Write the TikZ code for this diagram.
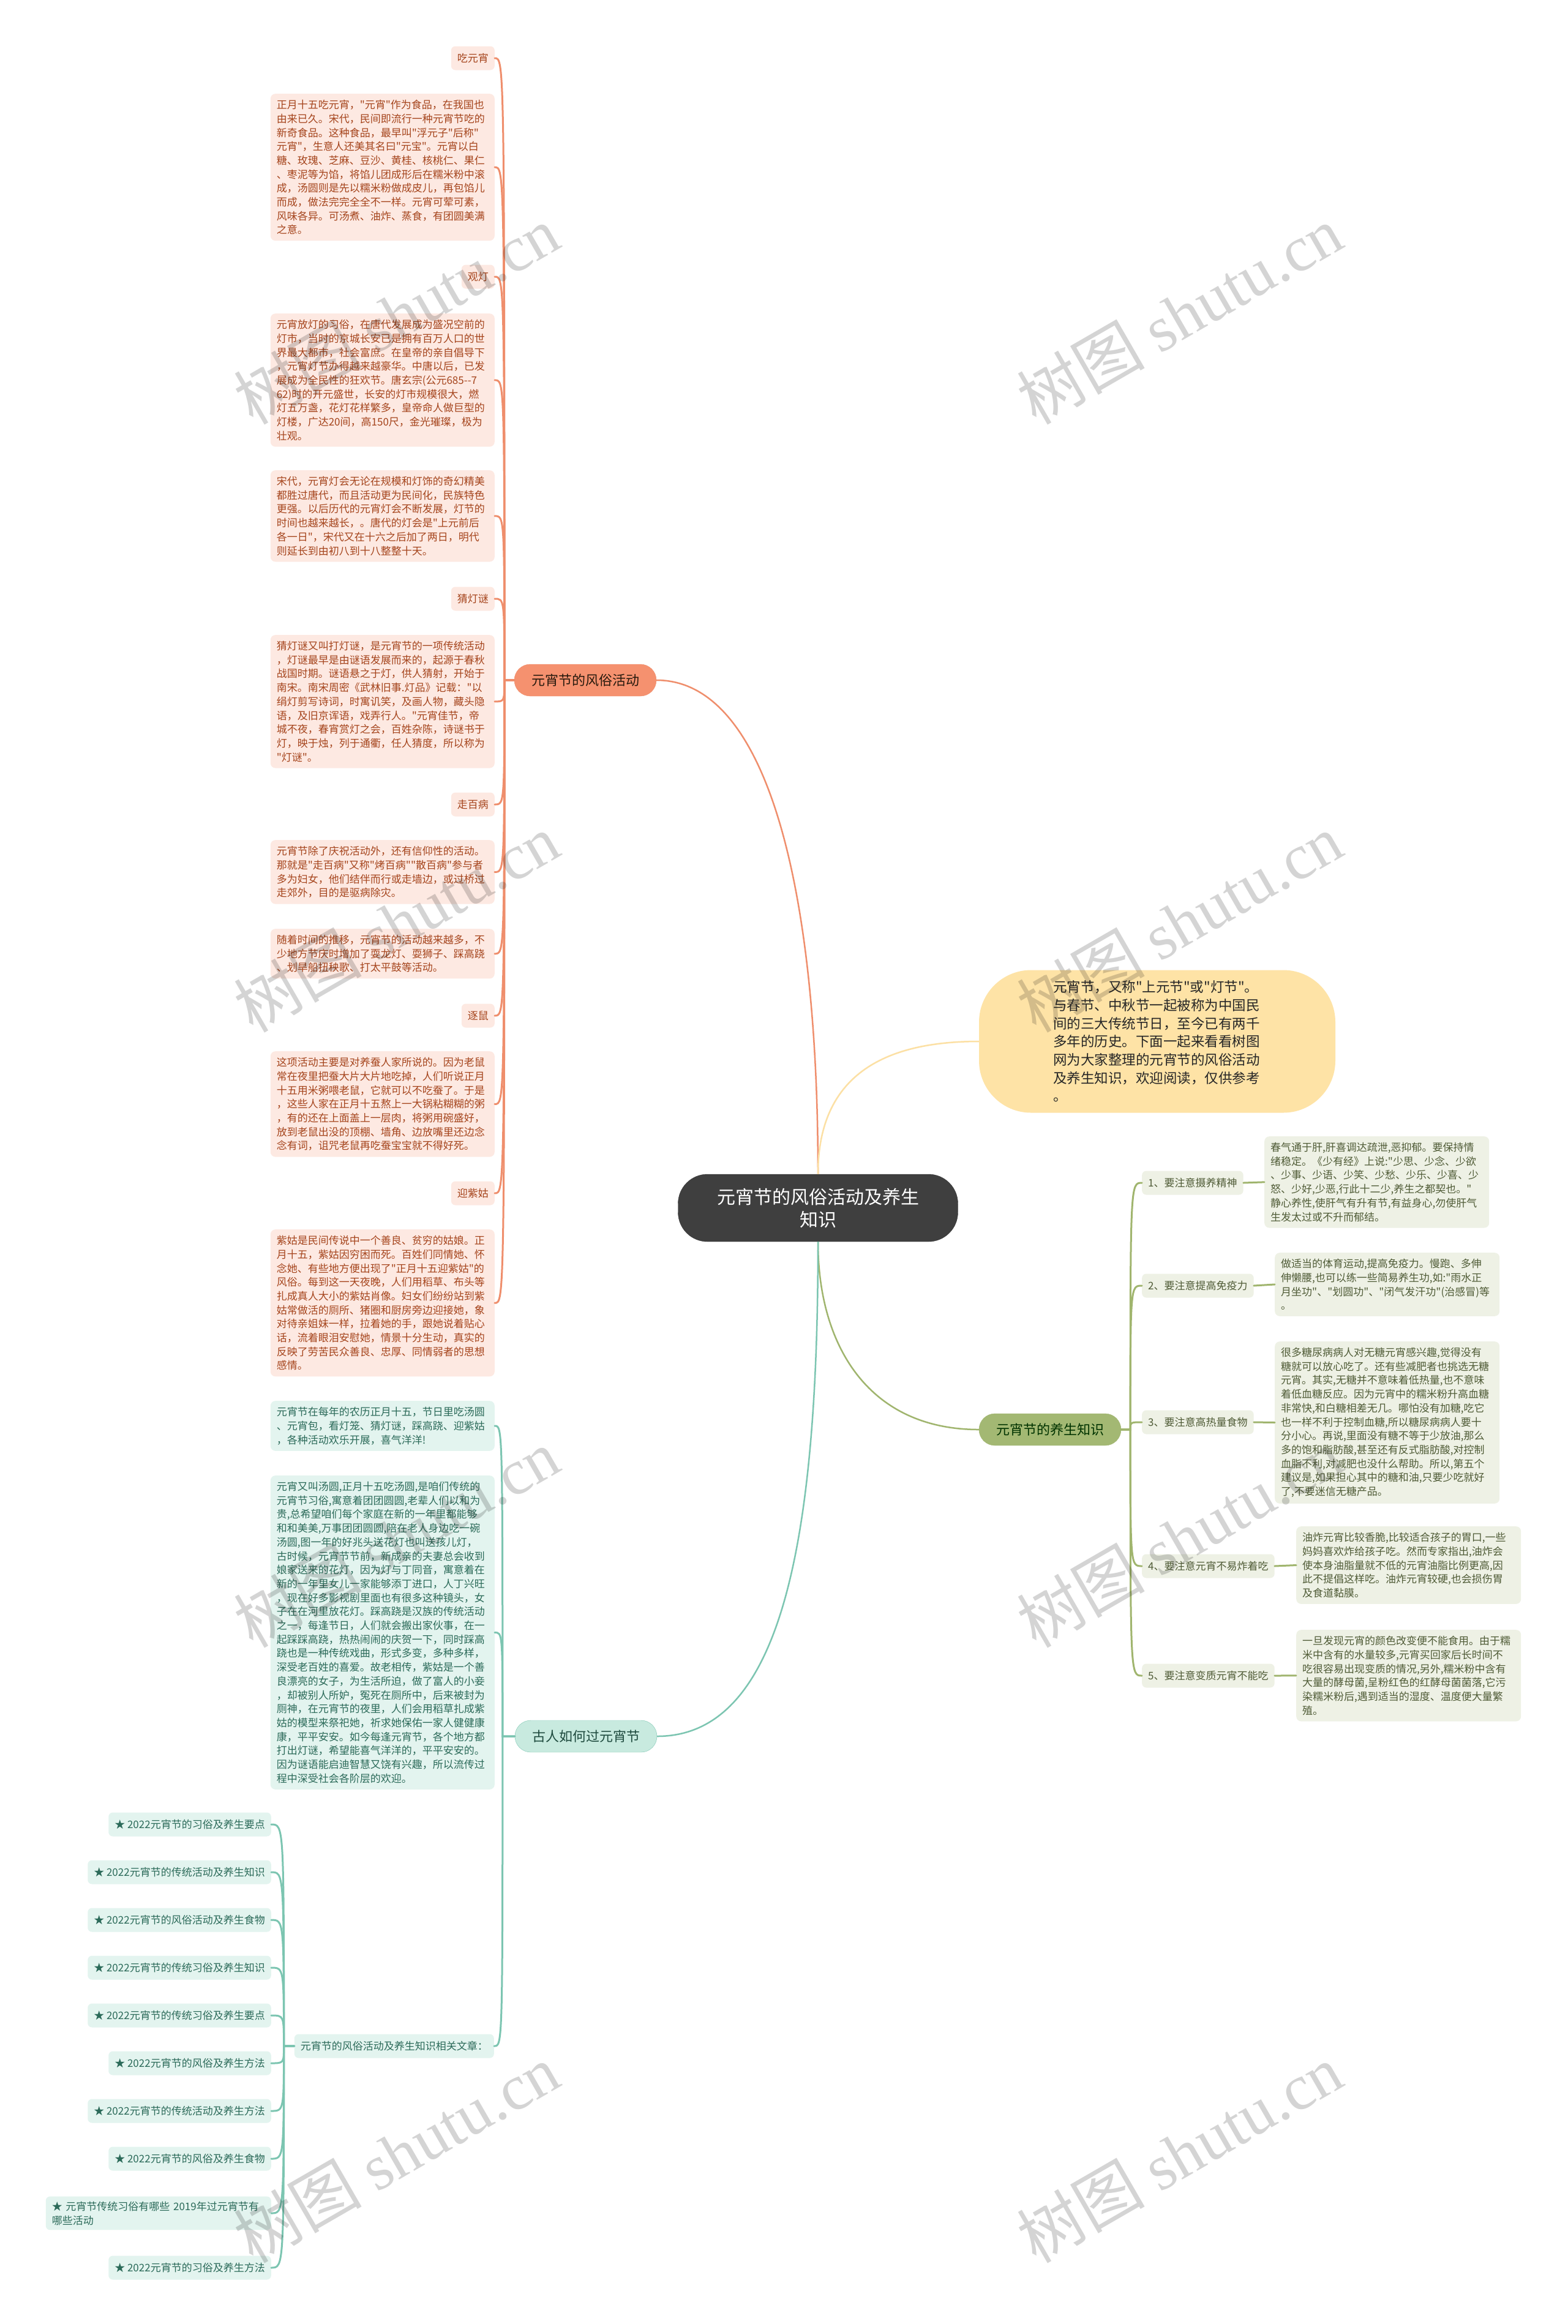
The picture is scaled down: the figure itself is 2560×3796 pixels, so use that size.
\documentclass[tikz,border=0pt]{standalone}
\usepackage{fontspec}
\setmainfont{Noto Sans CJK SC}
\newfontfamily\cjkfont{Noto Sans CJK SC}
\newfontfamily\wmlatin{Liberation Serif}
\usetikzlibrary{positioning}
\definecolor{rootfill}{HTML}{3F3F3F}
\definecolor{introfill}{HTML}{FEE3A6}
\definecolor{introline}{HTML}{FCE0A4}
\definecolor{fsline}{HTML}{EF8E6C}
\definecolor{fsfill}{HTML}{F5916F}
\definecolor{fsleaf}{HTML}{FDE9E2}
\definecolor{fstext}{HTML}{A5441C}
\definecolor{ysline}{HTML}{A0B56E}
\definecolor{ysfill}{HTML}{A3B873}
\definecolor{ysleaf}{HTML}{EEF1E5}
\definecolor{ystext}{HTML}{4F5B36}
\definecolor{grline}{HTML}{7CC5B1}
\definecolor{grfill}{HTML}{C8EADF}
\definecolor{grleaf}{HTML}{E3F4EF}
\definecolor{grtext}{HTML}{2B6A59}
\newcommand{\fsz}[2]{\cjkfont\fontsize{#1pt}{#2pt}\selectfont}

\begin{document}
\begin{tikzpicture}[
						x=1pt,
						y=-1pt,
						rootnode/.style={fill=rootfill, draw=rootfill!80!black, text=white, rounded corners=48pt, font=\fsz{30}{37}, align=center, minimum width=457pt, minimum height=110pt},
						intronode/.style={fill=introfill, text=black!85, rounded corners=85pt, font=\fsz{22.5}{29.7}, text width=340pt, align=left, inner xsep=121pt, minimum height=233pt},
						branch/.style={rounded corners=26pt, font=\fsz{22}{26}, inner xsep=28pt, minimum height=52pt},
						fsbranch/.style={branch, fill=fsfill, draw=fsline, text=black!80!brown},
						ysbranch/.style={branch, fill=ysfill, draw=ysline, text=black!80!green},
						grbranch/.style={branch, fill=grfill, draw=grline, text=grtext!70!black},
						leaflabel/.style={rounded corners=7pt, font=\fsz{17}{23}, inner xsep=10pt, inner ysep=8pt, minimum height=39pt},
						leafblock/.style={rounded corners=8pt, font=\fsz{17}{22.7}, text width=346pt, align=left, inner sep=10pt},
						fslabel/.style={leaflabel, fill=fsleaf, text=fstext, anchor=east},
						fsblock/.style={leafblock, fill=fsleaf, text=fstext, anchor=north east},
						yslabel/.style={leaflabel, fill=ysleaf, text=ystext, anchor=west},
						ysblock/.style={leafblock, fill=ysleaf, text=ystext, text width=347pt, anchor=north west},
						grlabel/.style={leaflabel, fill=grleaf, text=grtext, anchor=east},
						grblock/.style={leafblock, fill=grleaf, text=grtext, anchor=north east},
						edge/.style={line width=3pt, line cap=round},
						fsedge/.style={edge, draw=fsline},
						ysedge/.style={edge, draw=ysline},
						gredge/.style={edge, draw=grline},
						mainedge/.style={line width=2.5pt},
						watermark/.style={rotate=30, font=\fsz{105}{105}, text=black, text opacity=0.17, inner sep=0pt}
					]
	\fill[white] (0,0) rectangle (2560,3796);
	\useasboundingbox (0,0) rectangle (2560,3796);

	\node[rootnode] (root) at (1336,1973) {元宵节的风俗活动及养生\\知识};
	\node[intronode] (intro) at (1890,1701) {元宵节，又称"上元节"或"灯节"。\\与春节、中秋节一起被称为中国民\\间的三大传统节日，至今已有两千\\多年的历史。下面一起来看看树图\\网为大家整理的元宵节的风俗活动\\及养生知识，欢迎阅读，仅供参考\\。};
	\node[fsbranch] (fengsu) at (956,1111) {元宵节的风俗活动};
	\node[ysbranch] (yangsheng) at (1715,2335) {元宵节的养生知识};
	\node[grbranch] (guren) at (957,2836) {古人如何过元宵节};

	\node[fslabel] (fsl1) at (808,95) {吃元宵};
	\node[fsblock] (fsb1) at (808,153) {正月十五吃元宵，"元宵"作为食品，在我国也\\由来已久。宋代，民间即流行一种元宵节吃的\\新奇食品。这种食品，最早叫"浮元子"后称"\\元宵"，生意人还美其名曰"元宝"。元宵以白\\糖、玫瑰、芝麻、豆沙、黄桂、核桃仁、果仁\\、枣泥等为馅，将馅儿团成形后在糯米粉中滚\\成，汤圆则是先以糯米粉做成皮儿，再包馅儿\\而成，做法完完全全不一样。元宵可荤可素，\\风味各异。可汤煮、油炸、蒸食，有团圆美满\\之意。};
	\node[fslabel] (fsl2) at (808,452) {观灯};
	\node[fsblock] (fsb2) at (808,512) {元宵放灯的习俗，在唐代发展成为盛况空前的\\灯市，当时的京城长安已是拥有百万人口的世\\界最大都市，社会富庶。在皇帝的亲自倡导下\\，元宵灯节办得越来越豪华。中唐以后，已发\\展成为全民性的狂欢节。唐玄宗(公元685--7\\62)时的开元盛世，长安的灯市规模很大，燃\\灯五万盏，花灯花样繁多，皇帝命人做巨型的\\灯楼，广达20间，高150尺，金光璀璨，极为\\壮观。};
	\node[fsblock] (fsb3) at (808,768) {宋代，元宵灯会无论在规模和灯饰的奇幻精美\\都胜过唐代，而且活动更为民间化，民族特色\\更强。以后历代的元宵灯会不断发展，灯节的\\时间也越来越长，。唐代的灯会是"上元前后\\各一日"，宋代又在十六之后加了两日，明代\\则延长到由初八到十八整整十天。};
	\node[fslabel] (fsl3) at (808,978) {猜灯谜};
	\node[fsblock] (fsb4) at (808,1037) {猜灯谜又叫打灯谜，是元宵节的一项传统活动\\，灯谜最早是由谜语发展而来的，起源于春秋\\战国时期。谜语悬之于灯，供人猜射，开始于\\南宋。南宋周密《武林旧事.灯品》记载："以\\绢灯剪写诗词，时寓讥笑，及画人物，藏头隐\\语，及旧京诨语，戏弄行人。"元宵佳节，帝\\城不夜，春宵赏灯之会，百姓杂陈，诗谜书于\\灯，映于烛，列于通衢，任人猜度，所以称为\\"灯谜"。};
	\node[fslabel] (fsl4) at (808,1314) {走百病};
	\node[fsblock] (fsb5) at (808,1372) {元宵节除了庆祝活动外，还有信仰性的活动。\\那就是"走百病"又称"烤百病""散百病"参与者\\多为妇女，他们结伴而行或走墙边，或过桥过\\走郊外，目的是驱病除灾。};
	\node[fsblock] (fsb6) at (808,1517) {随着时间的推移，元宵节的活动越来越多，不\\少地方节庆时增加了耍龙灯、耍狮子、踩高跷\\、划旱船扭秧歌、打太平鼓等活动。};
	\node[fslabel] (fsl5) at (808,1659) {逐鼠};
	\node[fsblock] (fsb7) at (808,1717) {这项活动主要是对养蚕人家所说的。因为老鼠\\常在夜里把蚕大片大片地吃掉，人们听说正月\\十五用米粥喂老鼠，它就可以不吃蚕了。于是\\，这些人家在正月十五熬上一大锅粘糊糊的粥\\，有的还在上面盖上一层肉，将粥用碗盛好，\\放到老鼠出没的顶棚、墙角、边放嘴里还边念\\念有词，诅咒老鼠再吃蚕宝宝就不得好死。};
	\node[fslabel] (fsl6) at (808,1949) {迎紫姑};
	\node[fsblock] (fsb8) at (808,2008) {紫姑是民间传说中一个善良、贫穷的姑娘。正\\月十五，紫姑因穷困而死。百姓们同情她、怀\\念她、有些地方便出现了"正月十五迎紫姑"的\\风俗。每到这一天夜晚，人们用稻草、布头等\\扎成真人大小的紫姑肖像。妇女们纷纷站到紫\\姑常做活的厕所、猪圈和厨房旁边迎接她，象\\对待亲姐妹一样，拉着她的手，跟她说着贴心\\话，流着眼泪安慰她，情景十分生动，真实的\\反映了劳苦民众善良、忠厚、同情弱者的思想\\感情。};

	\node[yslabel] (ysl1) at (1865,1932) {1、要注意摄养精神};
	\node[ysblock] (ysb1) at (2065,1856) {春气通于肝,肝喜调达疏泄,恶抑郁。要保持情\\绪稳定。《少有经》上说:"少思、少念、少欲\\、少事、少语、少笑、少愁、少乐、少喜、少\\怒、少好,少恶,行此十二少,养生之都契也。"\\静心养性,使肝气有升有节,有益身心,勿使肝气\\生发太过或不升而郁结。};
	\node[yslabel] (ysl2) at (1865,2100) {2、要注意提高免疫力};
	\node[ysblock] (ysb2) at (2082,2046) {做适当的体育运动,提高免疫力。慢跑、多伸\\伸懒腰,也可以练一些简易养生功,如:"雨水正\\月坐功"、"划圆功"、"闭气发汗功"(治感冒)等\\。};
	\node[yslabel] (ysl3) at (1865,2323) {3、要注意高热量食物};
	\node[ysblock] (ysb3) at (2082,2191) {很多糖尿病病人对无糖元宵感兴趣,觉得没有\\糖就可以放心吃了。还有些减肥者也挑选无糖\\元宵。其实,无糖并不意味着低热量,也不意味\\着低血糖反应。因为元宵中的糯米粉升高血糖\\非常快,和白糖相差无几。哪怕没有加糖,吃它\\也一样不利于控制血糖,所以糖尿病病人要十\\分小心。再说,里面没有糖不等于少放油,那么\\多的饱和脂肪酸,甚至还有反式脂肪酸,对控制\\血脂不利,对减肥也没什么帮助。所以,第五个\\建议是,如果担心其中的糖和油,只要少吃就好\\了,不要迷信无糖产品。};
	\node[yslabel] (ysl4) at (1865,2558) {4、要注意元宵不易炸着吃};
	\node[ysblock] (ysb4) at (2117,2493) {油炸元宵比较香脆,比较适合孩子的胃口,一些\\妈妈喜欢炸给孩子吃。然而专家指出,油炸会\\使本身油脂量就不低的元宵油脂比例更高,因\\此不提倡这样吃。油炸元宵较硬,也会损伤胃\\及食道黏膜。};
	\node[yslabel] (ysl5) at (1865,2737) {5、要注意变质元宵不能吃};
	\node[ysblock] (ysb5) at (2117,2662) {一旦发现元宵的颜色改变便不能食用。由于糯\\米中含有的水量较多,元宵买回家后长时间不\\吃很容易出现变质的情况,另外,糯米粉中含有\\大量的酵母菌,呈粉红色的红酵母菌菌落,它污\\染糯米粉后,遇到适当的湿度、温度便大量繁\\殖。};

	\node[grblock] (grb1) at (808,2288) {元宵节在每年的农历正月十五，节日里吃汤圆\\、元宵包，看灯笼、猜灯谜，踩高跷、迎紫姑\\，各种活动欢乐开展，喜气洋洋!};
	\node[grblock] (grb2) at (808,2410) {元宵又叫汤圆,正月十五吃汤圆,是咱们传统的\\元宵节习俗,寓意着团团圆圆,老辈人们以和为\\贵,总希望咱们每个家庭在新的一年里都能够\\和和美美,万事团团圆圆,陪在老人身边吃一碗\\汤圆,图一年的好兆头送花灯也叫送孩儿灯，\\古时候，元宵节节前，新成亲的夫妻总会收到\\娘家送来的花灯，因为灯与丁同音，寓意着在\\新的一年里女儿一家能够添丁进口，人丁兴旺\\，现在好多影视剧里面也有很多这种镜头，女\\子在在河里放花灯。踩高跷是汉族的传统活动\\之一，每逢节日，人们就会搬出家伙事，在一\\起踩踩高跷，热热闹闹的庆贺一下，同时踩高\\跷也是一种传统戏曲，形式多变，多种多样，\\深受老百姓的喜爱。故老相传，紫姑是一个善\\良漂亮的女子，为生活所迫，做了富人的小妾\\，却被别人所妒，冤死在厕所中，后来被封为\\厕神，在元宵节的夜里，人们会用稻草扎成紫\\姑的模型来祭祀她，祈求她保佑一家人健健康\\康，平平安安。如今每逢元宵节，各个地方都\\打出灯谜，希望能喜气洋洋的，平平安安的。\\因为谜语能启迪智慧又饶有兴趣，所以流传过\\程中深受社会各阶层的欢迎。};
	\node[grlabel] (grl1) at (807,3342) {元宵节的风俗活动及养生知识相关文章：};
	\node[grlabel] (art1) at (443,2980) {★ 2022元宵节的习俗及养生要点};
	\node[grlabel] (art2) at (443,3058) {★ 2022元宵节的传统活动及养生知识};
	\node[grlabel] (art3) at (443,3136) {★ 2022元宵节的风俗活动及养生食物};
	\node[grlabel] (art4) at (443,3214) {★ 2022元宵节的传统习俗及养生知识};
	\node[grlabel] (art5) at (443,3292) {★ 2022元宵节的传统习俗及养生要点};
	\node[grlabel] (art6) at (443,3370) {★ 2022元宵节的风俗及养生方法};
	\node[grlabel] (art7) at (443,3448) {★ 2022元宵节的传统活动及养生方法};
	\node[grlabel] (art8) at (443,3526) {★ 2022元宵节的风俗及养生食物};
	\node[grlabel, text width=348pt, align=left] (art9) at (443,3615) {★ 元宵节传统习俗有哪些 2019年过元宵节有\\哪些活动};
	\node[grlabel] (art10) at (443,3704) {★ 2022元宵节的习俗及养生方法};

	\coordinate (fsjoin) at ([xshift=-16pt]fengsu.west);
	\coordinate (ysjoin) at ([xshift=15pt]yangsheng.east);
	\coordinate (grjoin) at ([xshift=-20pt]guren.west);
	\coordinate (artjoin) at ([xshift=-17pt]grl1.west);

	\draw[mainedge, draw=fsline] (root.north) .. controls +(0,-470) and +(180,0) .. (fengsu.east);
	\draw[mainedge, draw=introline] (root.north) .. controls +(0,-150) and +(-170,0) .. (intro.west);
	\draw[mainedge, draw=ysline] (root.south) .. controls +(0,170) and +(-180,0) .. (yangsheng.west);
	\draw[mainedge, draw=grline] (root.south) .. controls +(0,500) and +(200,0) .. (guren.east);

	\foreach \n in {fsl1,fsb1,fsl2,fsb2,fsb3,fsl3,fsb4,fsl4,fsb5,fsb6,fsl5,fsb7,fsl6,fsb8}
		\draw[fsedge] (fengsu.west) -- (fsjoin) .. controls (fsjoin |- \n.east) .. (\n.east);
	\foreach \n in {ysl1,ysl2,ysl3,ysl4,ysl5}
		\draw[ysedge] (yangsheng.east) -- (ysjoin) .. controls (ysjoin |- \n.west) .. (\n.west);
	\foreach \i in {1,...,5}
		\draw[ysedge] (ysl\i.east) -- (ysb\i.west);
	\foreach \n in {grb1,grb2,grl1}
		\draw[gredge] (guren.west) -- (grjoin) .. controls (grjoin |- \n.east) .. (\n.east);
	\foreach \i in {1,...,10}
		\draw[gredge] (grl1.west) -- (artjoin) .. controls (artjoin |- art\i.east) .. (art\i.east);

	\foreach \wx/\wy [count=\i] in {647/514,1926/514,647/1507,1926/1507,647/2512,1926/2512,647/3517,1926/3517}
		\node[watermark] (wm\i) at (\wx,\wy) {树图 {\wmlatin shutu.cn}};
\end{tikzpicture}
\end{document}
